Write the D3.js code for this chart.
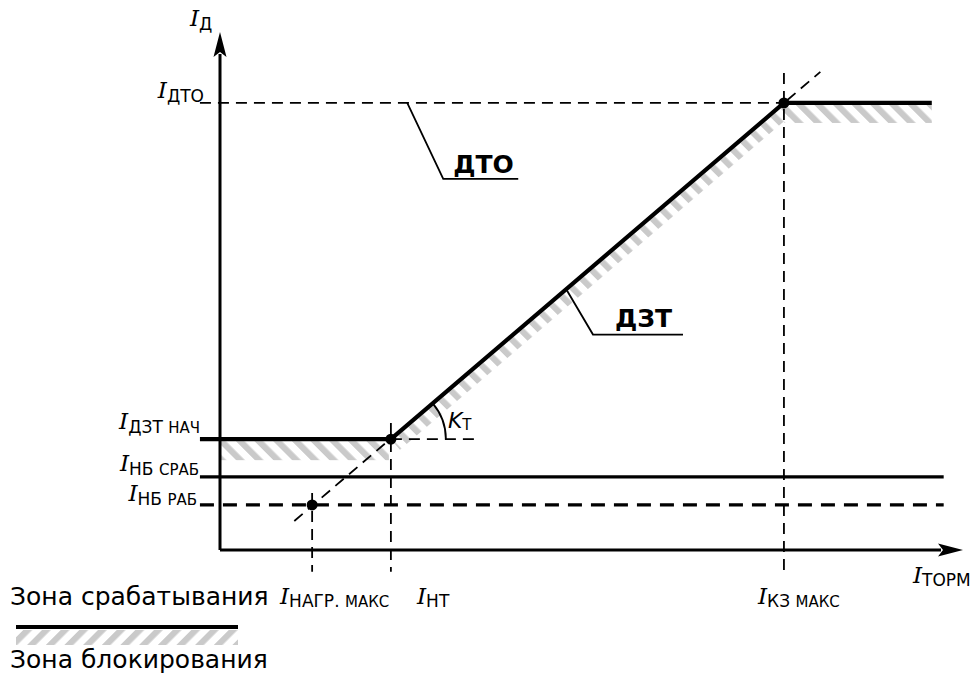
<!DOCTYPE html>
<html>
<head>
<meta charset="utf-8">
<script src="https://cdn.jsdelivr.net/npm/d3@7"></script>
<style>
  html, body { margin: 0; padding: 0; background: #fff; }
  svg { display: block; }
  text { font-family: "DejaVu Sans", Verdana, sans-serif; fill: #000; }
  .iv { font-family: "DejaVu Serif", serif; font-style: italic; }
</style>
</head>
<body>
<svg id="chart" width="972" height="678"></svg>
<script>
// Differential current levels Iд (relative units)
const levelKeys = ["ДТО", "ДЗТ НАЧ", "НБ СРАБ", "НБ РАБ"];
const levelValues = [8.63, 2.14, 1.41, 0.87];
const levelSubs = [["ДТО", ""], ["ДЗТ ", "НАЧ"], ["НБ ", "СРАБ"], ["НБ ", "РАБ"]];

// Restraint current breakpoints Iторм (relative units)
const breakKeys = ["НАГР. МАКС", "НТ", "КЗ МАКС"];
const breakValues = [1.24, 2.30, 7.59];
const breakSubs = [["НАГР. ", "МАКС"], ["НТ", ""], ["КЗ ", "МАКС"]];
const guideTops = [1.10, 2.45, 9.21];

// Axis titles (subscripts of I)
const axisSubY = "Д";
const axisSubX = "ТОРМ";

// Extents of the drawn lines
const lineStart = -0.27;
const dtoEnd = 9.58;
const nbEnd = 9.74;
const guideBottom = -0.42;
const slopeExt = [[1.00, 0.56], [8.08, 9.23]];
const ktRefEnd = 3.43;

const legendTexts = ["Зона срабатывания", "Зона блокирования"];

const lv = Object.fromEntries(levelKeys.map((k, i) => [k, levelValues[i]]));
const bv = Object.fromEntries(breakKeys.map((k, i) => [k, breakValues[i]]));

// Tripping characteristic: ДЗТ start level, restrained slope, ДТО cut-off
const characteristic = [
  [lineStart, lv["ДЗТ НАЧ"]],
  [bv["НТ"], lv["ДЗТ НАЧ"]],
  [bv["КЗ МАКС"], lv["ДТО"]],
  [dtoEnd, lv["ДТО"]]
];
const dots = [
  [bv["НАГР. МАКС"], lv["НБ РАБ"]],
  [bv["НТ"], lv["ДЗТ НАЧ"]],
  [bv["КЗ МАКС"], lv["ДТО"]]
];

const svg = d3.select("#chart");
const x = d3.scaleLinear().domain([0, 10]).range([220, 963]);
const y = d3.scaleLinear().domain([0, 10]).range([550, 32]);
const line = d3.line().x(d => x(d[0])).y(d => y(d[1]));

// Hatch patterns
const defs = svg.append("defs");
function hatch(id, angle, w) {
  const p = defs.append("pattern")
    .attr("id", id).attr("patternUnits", "userSpaceOnUse")
    .attr("width", w).attr("height", 40)
    .attr("patternTransform", `rotate(${angle})`);
  p.append("rect").attr("x", 0).attr("y", 0).attr("width", w * 0.47).attr("height", 40)
    .attr("fill", "#cacaca");
}
hatch("hatchB", -45, 13.2);
hatch("hatchL", 45, 13.2);

// Blocking zone bands along the characteristic
const band = svg.append("g").attr("fill", "url(#hatchB)");
const yN = y(lv["ДЗТ НАЧ"]), yT = y(lv["ДТО"]);
band.append("rect")
  .attr("x", x(0) + 1).attr("y", yN + 2)
  .attr("width", x(bv["НТ"]) - x(0) - 3).attr("height", 19);
band.append("rect")
  .attr("x", x(bv["КЗ МАКС"])).attr("y", yT + 2)
  .attr("width", x(dtoEnd) - x(bv["КЗ МАКС"])).attr("height", 18);
{
  const ax = x(bv["НТ"]), ay = yN, bx = x(bv["КЗ МАКС"]), by = yT;
  const L = Math.hypot(bx - ax, by - ay);
  const nx = -(by - ay) / L, ny = (bx - ax) / L;
  const o1 = 2, o2 = 14;
  band.append("path").attr("d",
    `M${ax + nx * o1},${ay + ny * o1}L${bx + nx * o1},${by + ny * o1}` +
    `L${bx + nx * o2},${by + ny * o2}L${ax + nx * o2},${ay + ny * o2}Z`);
}

// Axes
const axes = svg.append("g").attr("stroke", "#000").attr("stroke-width", 3).attr("fill", "none");
axes.append("line").attr("x1", x(0)).attr("y1", y(0)).attr("x2", x(0)).attr("y2", y(10) + 22);
axes.append("line").attr("x1", x(0)).attr("y1", y(0)).attr("x2", x(10) - 22).attr("y2", y(0));
svg.append("path").attr("fill", "#000")
  .attr("d", `M${x(0)},${y(10)}L${x(0) - 6.5},${y(10) + 25}L${x(0)},${y(10) + 20}L${x(0) + 6.5},${y(10) + 25}Z`);
svg.append("path").attr("fill", "#000")
  .attr("d", `M${x(10)},${y(0)}L${x(10) - 25},${y(0) - 6.5}L${x(10) - 20},${y(0)}L${x(10) - 25},${y(0) + 6.5}Z`);

// Thin dashed construction lines
const thin = svg.append("g").attr("stroke", "#000").attr("stroke-width", 1.8)
  .attr("stroke-dasharray", "11,7").attr("fill", "none");
thin.append("path").attr("d", line([[lineStart, lv["ДТО"]], [bv["КЗ МАКС"], lv["ДТО"]]]));
thin.append("path").attr("d", line(slopeExt));
thin.append("path").attr("d", line([[bv["НТ"], lv["ДЗТ НАЧ"]], [ktRefEnd, lv["ДЗТ НАЧ"]]]));
breakValues.forEach((v, i) => {
  thin.append("path").attr("d", line([[v, guideTops[i]], [v, guideBottom]]));
});

// Unbalance current levels
svg.append("path").attr("d", line([[lineStart, lv["НБ СРАБ"]], [nbEnd, lv["НБ СРАБ"]]]))
  .attr("stroke", "#000").attr("stroke-width", 3.2).attr("fill", "none");
svg.append("path").attr("d", line([[lineStart, lv["НБ РАБ"]], [nbEnd, lv["НБ РАБ"]]]))
  .attr("stroke", "#000").attr("stroke-width", 3.2).attr("stroke-dasharray", "14,9").attr("fill", "none");

// Characteristic
svg.append("path").attr("d", line(characteristic))
  .attr("stroke", "#000").attr("stroke-width", 4.2).attr("fill", "none")
  .attr("stroke-linejoin", "round");

svg.append("g").selectAll("circle").data(dots).join("circle")
  .attr("cx", d => x(d[0])).attr("cy", d => y(d[1])).attr("r", 5.5).attr("fill", "#000");

// Slope angle arc Kт
{
  const cx = x(bv["НТ"]), cy = yN, r = 55;
  const ang = Math.atan2(yT - yN, x(bv["КЗ МАКС"]) - cx);
  svg.append("path")
    .attr("d", `M${cx + r},${cy}A${r},${r} 0 0 0 ${cx + r * Math.cos(ang)},${cy + r * Math.sin(ang)}`)
    .attr("stroke", "#000").attr("stroke-width", 1.8).attr("fill", "none");
  const t = svg.append("text").attr("x", cx + 57).attr("y", cy - 11);
  t.append("tspan").attr("font-size", 22).attr("font-style", "italic").text("K");
  t.append("tspan").attr("font-size", 15).attr("dy", 2).text("Т");
}

// Leaders
const leader = svg.append("g").attr("stroke", "#000").attr("stroke-width", 1.8).attr("fill", "none");
{
  const px = x(2.52), py = yT;
  leader.append("path").attr("d", `M${px},${py}L${px + 36},${py + 76}L${px + 111},${py + 76}`);
  svg.append("text").attr("x", px + 46).attr("y", py + 70)
    .attr("font-size", 25).attr("font-weight", "bold").text("ДТО");
}
{
  const s = 0.448;
  const ax = x(bv["НТ"]), bx = x(bv["КЗ МАКС"]);
  const px = ax + (bx - ax) * s, py = yN + (yT - yN) * s + 2;
  leader.append("path").attr("d", `M${px},${py}L${px + 26},${py + 44}L${px + 116},${py + 44}`);
  svg.append("text").attr("x", px + 48).attr("y", py + 36)
    .attr("font-size", 25).attr("font-weight", "bold").text("ДЗТ");
}

// Current labels: italic I with subscript (capitals + small capitals)
function currentLabel(px, py, anchor, sub, dy) {
  const t = svg.append("text").attr("x", px).attr("y", py).attr("text-anchor", anchor);
  t.append("tspan").attr("class", "iv").attr("font-size", 23).text("I");
  t.append("tspan").attr("font-size", 17).attr("dy", dy).text(sub[0]);
  if (sub[1]) t.append("tspan").attr("font-size", 15).text(sub[1]);
}
const levelLabelPos = [[204, -3], [200, -8], [199, -4], [197, -2]];
levelValues.forEach((v, i) => {
  currentLabel(levelLabelPos[i][0], y(v) + levelLabelPos[i][1] - 2, "end", levelSubs[i], 4);
});
const breakLabelX = [280, 417, 758];
breakValues.forEach((v, i) => {
  currentLabel(breakLabelX[i], 604, "start", breakSubs[i], 3);
});
currentLabel(190, 26, "start", [axisSubY, ""], 4);
currentLabel(913, 583, "start", [axisSubX, ""], 3);

// Legend
svg.append("text").attr("x", 10).attr("y", 605).attr("font-size", 25).text(legendTexts[0]);
svg.append("rect").attr("x", 16).attr("y", 630).attr("width", 222).attr("height", 15).attr("fill", "url(#hatchL)");
svg.append("line").attr("x1", 16).attr("x2", 238).attr("y1", 627).attr("y2", 627)
  .attr("stroke", "#000").attr("stroke-width", 4.2);
svg.append("text").attr("x", 10).attr("y", 668).attr("font-size", 25).text(legendTexts[1]);
</script>
</body>
</html>
